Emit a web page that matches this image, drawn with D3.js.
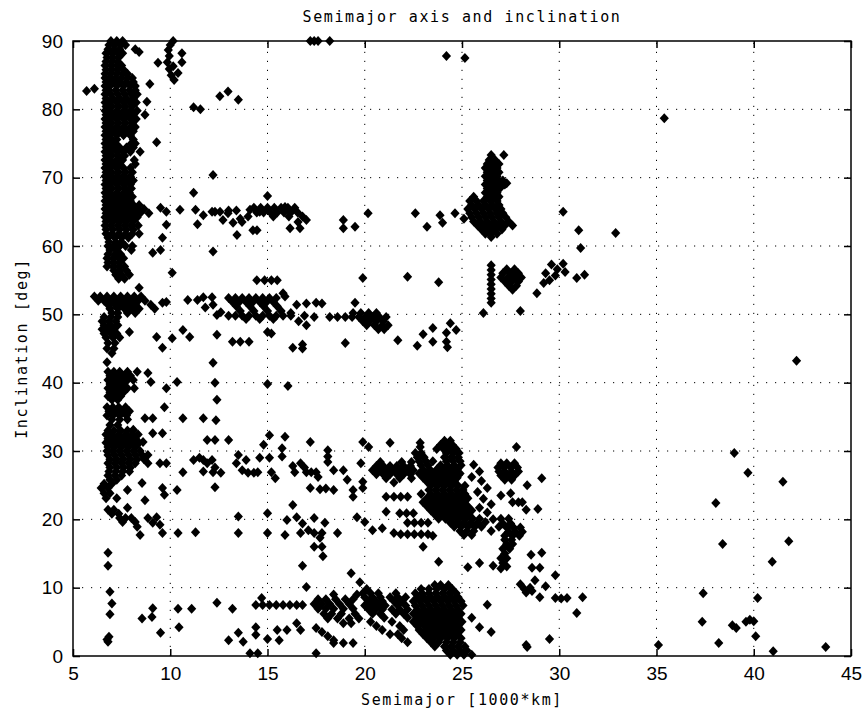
<!DOCTYPE html>
<html>
<head>
<meta charset="utf-8">
<script src="https://cdn.jsdelivr.net/npm/d3@7"></script>
<style>
  body { margin: 0; background: #fff; }
  svg { display: block; }
  .tick text { font-family: "Liberation Sans", Arial, sans-serif; font-size: 19px; fill: #000; }
  .tick line { stroke: #000; stroke-width: 1.5; }
  .grid line { stroke: #000; stroke-width: 1; stroke-dasharray: 1.2, 7.8; }
  .lbl { font-family: "DejaVu Sans Mono", monospace; font-size: 15px; letter-spacing: 1.6px; fill: #000; }
</style>
</head>
<body>
<svg id="chart" width="863" height="713"></svg>
<script>
// rows: [inclination, semimajor, semimajor, ...]
var leoColumnRows = [
  [90.0, 6.95,7.25,7.55],
  [89.4, 6.85,7.15,7.45,7.7],
  [88.8, 6.8,7.1,7.4,8.2],
  [88.4, 8.4],
  [88.2, 6.7,7.0,7.3,7.55],
  [87.6, 6.75,7.05,7.35],
  [87.0, 6.7,7.0,7.3],
  [86.4, 6.65,6.95,7.25,7.5],
  [85.8, 6.7,7.0,7.3,7.6],
  [85.2, 6.65,6.95,7.25,7.55,7.8],
  [84.6, 6.65,6.9,7.2,7.5,7.8,8.05],
  [84.0, 6.7,7.05,7.4,7.75,8.1],
  [83.4, 6.65,6.9,7.25,7.6,7.95,8.2],
  [82.8, 6.7,6.85,7.2,7.55,7.9,8.2],
  [82.2, 6.65,6.95,7.3,7.65,8.0,8.3],
  [81.6, 6.7,7.05,7.4,7.75,8.1],
  [81.0, 6.65,6.9,7.25,7.6,7.95,8.25],
  [80.4, 6.7,7.0,7.35,7.7,8.05],
  [79.8, 6.65,6.9,7.25,7.6,7.95,8.3],
  [79.2, 6.7,7.05,7.4,7.75,8.1],
  [78.6, 6.65,6.9,7.25,7.6,7.95,8.25],
  [78.0, 6.7,7.0,7.35,7.7,8.05],
  [77.4, 6.65,6.9,7.25,7.6,7.95,8.2],
  [76.8, 6.7,7.05,7.4,7.75,8.1],
  [76.2, 6.65,6.9,7.25,7.6,7.95],
  [75.6, 6.7,7.0,7.25,8.1],
  [75.0, 6.65,6.9,7.2,8.0,8.2],
  [74.4, 6.7,7.05,7.4,7.75,8.1],
  [73.8, 6.65,6.9,7.25,7.6,7.95,8.45],
  [73.2, 6.7,7.0,7.35,7.65],
  [72.6, 6.65,6.9,7.25,7.55,8.15],
  [72.0, 6.7,7.05,7.4,8.2],
  [71.4, 6.65,6.9,7.25,7.6,7.95],
  [70.8, 6.7,7.0,7.35,7.7,8.05],
  [70.2, 6.65,6.9,7.25,7.6,7.95],
  [69.6, 6.7,7.05,7.4,7.75,8.1],
  [69.0, 6.65,6.9,7.25,7.6,7.95],
  [68.4, 6.7,7.0,7.35,7.7,8.0],
  [67.8, 6.65,6.9,7.25,7.6,7.9],
  [67.2, 6.7,7.05,7.4,7.75,8.05],
  [66.6, 6.65,6.9,7.25,7.6,7.95],
  [66.0, 6.7,7.05,7.4,7.75,8.1,8.4],
  [65.4, 6.65,6.9,7.25,7.6,7.95,8.3,8.65],
  [64.8, 6.7,7.05,7.4,7.75,8.1,8.45,8.9],
  [64.2, 6.65,6.9,7.25,7.6,7.95,8.3],
  [63.6, 6.7,7.05,7.4,7.75,8.1],
  [63.0, 6.65,6.95,7.3,7.65,8.0,8.35],
  [62.4, 6.7,7.05,7.4,7.75,8.1],
  [61.8, 6.7,7.0,7.35,7.7,8.05,8.4],
  [61.2, 6.8,7.15,7.5,7.85],
  [60.6, 6.85,7.2,7.5],
  [60.0, 6.8,7.1,7.4,7.7,8.05],
  [59.4, 6.9,7.25,8.0],
  [58.8, 6.8,7.15,7.45],
  [58.2, 6.75,7.05,7.35,7.6],
  [57.6, 6.8,7.1,7.4],
  [57.0, 6.75,7.05,7.35,7.65],
  [56.4, 7.1,7.4,7.75],
  [55.8, 7.2,7.5,7.9],
  [55.2, 7.35,7.65],
  [53.9, 8.4],
  [52.6, 6.1,6.4,6.75,7.1,7.45,7.8,8.15,8.5],
  [52.0, 6.3,6.6,6.95,7.3,7.65,8.0,8.35,8.7],
  [51.4, 6.8,7.15,7.5,7.85,8.2,9.0],
  [50.8, 6.9,7.3,7.65,8.0,8.4,9.2],
  [50.2, 7.0,7.3,7.8,8.2],
  [49.6, 6.6,6.95,7.3],
  [49.0, 6.5,6.85,7.2],
  [48.4, 6.6,6.95,7.3],
  [47.8, 6.5,6.8,7.1],
  [47.4, 7.9],
  [47.2, 6.6,6.95,7.25],
  [46.6, 6.7,7.05,7.4],
  [45.8, 6.8,7.15],
  [45.0, 6.75,7.1],
  [44.3, 7.0],
  [43.0, 6.75],
  [41.6, 6.8,7.1,7.4,7.8,8.3],
  [41.0, 6.9,7.25,7.6,7.95],
  [40.4, 6.8,7.1,7.45,7.8,8.1],
  [39.8, 6.9,7.25,7.6],
  [39.2, 6.8,7.1,7.45,7.8,8.15],
  [38.6, 6.9,7.25,7.6],
  [38.0, 6.8,7.1,7.45],
  [37.5, 7.0,7.3],
  [36.4, 6.75,7.05,7.35,7.7],
  [35.8, 6.85,7.2,7.55,7.9],
  [35.2, 6.75,7.05,7.4,7.75],
  [34.6, 7.0,7.4,7.8],
  [33.8, 6.9,7.3],
  [33.0, 6.8,7.1,7.45,7.8,8.1],
  [32.4, 6.7,7.0,7.35,7.7,8.05,8.35],
  [31.8, 6.8,7.15,7.5,7.85,8.2],
  [31.2, 6.7,7.0,7.35,7.7,8.05,8.4],
  [30.6, 6.8,7.15,7.5,7.85,8.2],
  [30.0, 6.75,7.05,7.4,7.75,8.1,8.45],
  [29.4, 6.8,7.15,7.5,7.85,8.2,8.55,8.85],
  [28.8, 6.9,7.25,7.6,7.95,8.3,8.65],
  [28.2, 6.8,7.15,7.5,7.85,8.2],
  [27.6, 6.9,7.25,7.6,7.95],
  [27.0, 6.85,7.2,7.55,7.9],
  [26.4, 6.8,7.15,7.5],
  [25.8, 6.9,7.25],
  [25.2, 6.6,7.0],
  [24.6, 6.45,6.8],
  [24.3, 7.8],
  [23.8, 6.6,6.9],
  [23.1, 6.7,7.25],
  [21.7, 7.8],
  [21.4, 6.8,7.1],
  [20.8, 7.0,7.35],
  [20.2, 7.4,7.7,8.0],
  [19.6, 7.55,8.2],
  [18.9, 8.3],
  [17.7, 8.45],
  [15.1, 6.8],
  [13.2, 6.8],
  [9.4, 6.9],
  [7.7, 7.0],
  [6.1, 6.9],
  [2.8, 6.85],
  [2.4, 6.75],
  [2.1, 6.8]
];

var band65Rows = [
  [65.6, 14.3,14.65,15.0,15.35,15.7,16.05,16.4],
  [64.9, 14.45,14.8,15.15,15.5,15.85,16.2,16.55],
  [64.3, 14.0,15.3,16.1,16.8],
  [65.2, 13.0,13.4],
  [64.0, 13.6]
];

var band50Rows = [
  [55.0, 14.45,14.85,15.2,15.5],
  [52.4, 13.0,13.35,13.7,14.05,14.4,14.75,15.1,15.45],
  [51.8, 13.2,13.55,13.9,14.25,14.6,14.95,15.3],
  [51.2, 13.4,14.1,14.8,15.5],
  [50.5, 13.6,14.3,15.0,15.7],
  [49.8, 13.0,13.35,13.7,14.05,14.4,14.75,15.1,15.45,15.8,16.2],
  [49.3, 13.9,14.6,15.3],
  [50.2, 19.4,19.8,20.2,20.6],
  [49.6, 19.0,19.35,19.7,20.05,20.4,20.75,21.1],
  [49.0, 19.9,20.25,20.6,20.95],
  [48.4, 20.1,20.5,20.9,21.2],
  [47.8, 20.7,21.0]
];

var band27Rows = [
  [28.4, 20.8,21.9,22.4],
  [27.8, 20.6,20.95,21.3,21.65,22.0,22.35],
  [27.2, 20.4,20.75,21.1,21.45,21.8,22.15,22.5],
  [26.6, 20.6,20.95,21.3,21.65,22.0,22.35],
  [26.0, 21.1,21.8,22.4],
  [25.4, 21.5],
  [23.3, 21.1,21.5,21.85,22.2],
  [20.9, 21.8,22.15,22.5],
  [18.0, 21.5],
  [17.8, 21.85,22.2,22.55,22.9,23.25],
  [17.6, 23.5],
  [31.5, 24.1,24.4],
  [30.9, 23.9,24.2,24.5],
  [30.3, 23.7,24.05,24.4,24.7],
  [29.7, 22.6,22.9,24.2,24.55,24.85],
  [29.1, 22.7,23.05,24.1,24.45,24.8],
  [28.5, 22.8,23.15,23.5,24.2,24.55,24.9],
  [27.9, 22.9,23.25,23.9,24.25,24.6,24.95],
  [27.3, 23.0,23.35,23.7,24.05,24.4,24.75],
  [26.7, 22.8,23.15,23.5,23.85,24.2,24.55,24.9],
  [26.1, 23.0,23.35,23.7,24.05,24.4,24.75],
  [25.5, 23.2,23.55,23.9,24.25,24.6],
  [24.9, 23.4,23.75,24.1,24.45,24.8,25.15],
  [24.3, 23.3,23.65,24.0,24.35,24.7,25.05],
  [23.7, 22.9,23.4,23.75,24.1,24.45,24.8,25.15],
  [23.1, 23.2,23.55,23.9,24.25,24.6,24.95,25.3],
  [22.5, 23.0,23.35,23.7,24.05,24.4,24.75,25.1],
  [21.9, 23.2,23.55,23.9,24.25,24.6,24.95,25.3],
  [21.3, 23.4,23.75,24.1,24.45,24.8,25.15,25.5],
  [20.7, 23.6,23.95,24.3,24.65,25.0,25.35],
  [20.1, 23.8,24.15,24.5,24.85,25.2,25.55,25.9],
  [19.5, 22.2,22.55,22.9,23.25,24.4,24.75,25.1,25.45,25.8],
  [18.9, 24.6,24.95,25.3,25.65,26.0],
  [18.3, 24.9,25.25,25.6],
  [17.7, 25.1,25.5],
  [28.2, 27.0,27.3,27.7],
  [27.6, 26.85,27.15,27.5,27.85],
  [27.0, 26.9,27.2,27.55,27.9],
  [26.4, 27.0,27.35,27.7],
  [25.8, 27.2,27.55],
  [20.1, 27.0,27.4],
  [19.4, 27.1,27.5],
  [18.8, 27.3,27.65,28.0],
  [18.2, 27.4,27.75,28.1],
  [17.6, 27.6,27.95],
  [17.0, 27.2,27.55],
  [16.4, 27.3,27.6],
  [15.7, 27.1,27.45],
  [15.0, 27.2],
  [14.3, 27.0,27.3],
  [13.6, 27.1]
];

var meoRows = [
  [73.3, 26.5,27.15],
  [72.6, 26.4,26.7],
  [72.0, 26.3,26.6,26.9],
  [71.4, 26.2,26.5,26.8],
  [70.8, 26.3,26.6,26.9],
  [70.2, 26.2,26.5,26.8],
  [69.6, 26.3,26.6,26.9,27.1],
  [69.0, 26.2,26.5,26.8,27.2],
  [68.4, 26.3,26.6,26.9],
  [67.8, 26.2,26.5,26.8],
  [67.2, 25.6,26.3,26.6,26.9],
  [66.6, 25.4,25.75,26.1,26.45,26.8],
  [66.0, 25.5,25.85,26.2,26.55,26.9],
  [65.4, 25.3,25.65,26.0,26.35,26.7,27.0],
  [64.8, 25.4,25.75,26.1,26.45,26.8,27.1],
  [64.2, 25.5,25.85,26.2,26.55,26.9,27.25],
  [63.6, 25.6,25.95,26.3,26.65,27.0,27.4],
  [63.0, 25.8,26.15,26.5,26.85,27.2,27.6],
  [62.4, 26.0,26.35,26.7,27.05],
  [61.8, 26.2,26.5,26.8],
  [61.3, 26.5],
  [57.2, 26.5],
  [56.5, 26.5],
  [55.8, 26.5],
  [55.1, 26.5],
  [54.4, 26.5],
  [53.7, 26.5],
  [53.0, 26.5],
  [52.3, 26.5],
  [51.7, 26.5],
  [56.6, 27.3,27.7],
  [56.0, 27.1,27.5,27.9],
  [55.4, 27.0,27.35,27.7,28.05],
  [54.8, 27.2,27.55,27.9],
  [54.2, 27.4,27.8],
  [53.6, 27.6]
];

var lowRows = [
  [9.0, 18.4,19.6],
  [8.3, 17.6,18.0,18.5,19.0,19.4],
  [7.6, 17.4,17.8,18.2,18.7,19.2],
  [6.9, 17.6,18.0,18.4,18.9,19.4],
  [6.2, 17.9,18.3,18.8,19.5],
  [5.5, 18.1,18.6,19.2,19.7],
  [4.8, 18.9,19.3],
  [7.45, 14.4,14.75,15.1,15.45,15.8,16.15,16.5,16.8],
  [10.4, 23.6,23.9,24.3],
  [9.8, 20.1,22.9,23.3,23.7,24.1,24.5],
  [9.2, 19.9,20.3,20.7,21.6,22.6,22.95,23.3,23.65,24.0,24.35,24.7],
  [8.6, 20.0,20.4,20.8,21.3,21.7,22.1,22.7,23.05,23.4,23.75,24.1,24.45,24.8],
  [8.0, 20.2,20.55,20.9,21.5,21.9,22.5,22.85,23.2,23.55,23.9,24.25,24.6,24.95],
  [7.4, 20.0,20.35,20.7,21.05,21.7,22.1,22.6,22.95,23.3,23.65,24.0,24.35,24.7,25.05],
  [6.8, 20.2,20.55,20.9,21.4,21.8,22.2,22.7,23.05,23.4,23.75,24.1,24.45,24.8],
  [6.2, 20.4,20.8,21.6,22.0,22.5,22.85,23.2,23.55,23.9,24.25,24.6,24.95],
  [5.6, 21.0,22.2,22.7,23.05,23.4,23.75,24.1,24.45,24.8],
  [5.0, 20.3,21.4,22.5,22.9,23.25,23.6,23.95,24.3,24.65,25.0],
  [4.4, 20.6,21.8,22.7,23.05,23.4,23.75,24.1,24.45,24.8],
  [3.8, 20.9,22.0,22.8,23.2,23.55,23.9,24.25,24.6,24.95],
  [3.2, 21.3,21.7,23.0,23.35,23.7,24.05,24.4,24.75],
  [2.6, 21.9,23.2,23.55,23.9,24.25,24.6,24.95],
  [2.0, 22.2,23.4,23.8,24.2,24.55,24.9],
  [1.4, 23.6,24.1,24.45,24.8,25.15],
  [0.8, 24.2,24.55,24.9,25.25],
  [0.2, 24.4,24.75,25.1,25.5]
];

// single points: [semimajor, inclination]
var scatterUpper = [
  [5.7,82.7],[6.1,83.0],[8.95,83.7],[8.8,81.1],[8.7,79.2],[9.3,75.2],
  [10.15,90.0],[10.0,89.4],[9.9,88.7],[9.95,87.8],[9.85,86.9],[9.95,85.9],[10.05,85.0],[10.2,84.3],
  [10.6,88.2],[10.6,86.9],[10.4,85.3],[9.37,86.8],[10.15,86.3],
  [11.2,80.3],[11.55,80.0],[12.55,81.9],[12.97,82.6],[13.5,81.4],
  [12.2,70.4],[11.2,67.8],
  [17.2,90.0],[17.4,90.0],[17.6,90.0],[18.2,90.0],[24.2,87.8],[25.15,87.5],[35.4,78.7],
  [9.5,65.6],[9.8,65.0],[10.5,65.3],[11.3,65.3],[11.7,64.5],[12.3,65.0],[11.4,63.2],[9.8,63.1],
  [9.6,61.2],[9.1,59.0],[9.5,59.4],[10.1,56.1],[12.2,59.2],
  [12.15,65.0],[12.56,65.0],[12.97,64.8],[12.71,63.8],[13.23,63.4],[13.43,61.6],[13.69,63.5],
  [14.1,65.3],[14.25,62.3],[14.46,62.3],[14.6,65.0],[15.0,67.3],[15.9,65.7],[16.57,63.5],
  [16.16,62.6],[16.67,62.6],[17.0,63.8],
  [18.9,63.8],[18.9,62.6],[19.5,62.8],[20.17,64.8],[22.6,64.8],[23.2,62.8],[23.87,64.5],
  [24.0,63.4],[24.64,64.8],[25.1,64.0],[27.3,69.2],[27.0,68.6],
  [19.9,55.3],[22.2,55.5],[23.8,54.7],
  [28.85,53.1],[29.3,56.0],[29.6,57.3],[29.9,56.6],[30.2,57.4],[29.5,55.0],[29.8,55.7],
  [30.3,56.2],[29.2,54.6],[30.9,55.3],[31.3,55.8],[28.0,50.5],[26.1,50.2],
  [30.2,65.0],[31.0,62.3],[32.9,61.9],[31.1,59.7]
];

var scatterMiddle = [
  [15.8,53.1],[15.9,52.6],[11.7,52.5],[12.15,52.5],[12.2,51.4],[12.4,49.9],[10.9,52.1],[11.4,52.1],
  [9.6,51.7],[9.8,51.8],[11.8,51.0],[12.6,50.3],
  [16.5,51.4],[17.0,51.6],[17.5,51.7],[17.8,51.6],[16.2,50.2],[16.6,49.0],[17.0,48.4],[17.4,49.6],
  [16.9,49.8],[18.2,49.6],[18.6,49.6],[19.5,51.7],
  [23.5,48.0],[24.4,48.7],[24.2,47.3],[24.2,46.0],[24.25,45.2],[24.7,47.7],[23.5,46.0],[23.0,47.1],
  [22.7,45.4],[21.7,46.2],
  [12.4,47.0],[13.2,46.0],[13.6,46.0],[14.05,46.0],[15.0,47.4],[15.2,47.2],[16.3,45.1],[16.8,45.6],
  [16.8,45.0],[19.0,45.8],[12.2,42.9],[12.3,40.0],[15.0,39.8],[16.05,39.5],
  [9.3,46.7],[9.6,45.1],[10.1,46.5],[10.65,47.7],[11.0,46.7],
  [8.85,41.4],[9.0,40.1],[9.8,39.2],[10.35,40.1],[12.4,37.5],
  [8.1,33.1],[8.7,34.8],[9.1,34.8],[9.7,36.4],[10.65,34.8],[11.7,34.8],[12.35,34.5],
  [8.6,31.3],[9.1,32.6],[9.6,32.6],[8.85,28.2],[9.47,28.2],[9.8,28.2],[8.55,25.3],[8.7,22.8],
  [9.6,24.6],[9.7,23.6],[10.35,24.3],[10.65,26.9],[11.2,28.7],[11.7,28.7],[12.15,28.7],
  [12.2,26.9],[11.9,31.6],[12.3,31.6],[12.3,24.7],
  [8.85,20.2],[9.3,20.3],[9.1,19.5],[9.47,19.2],[9.6,18.0],[10.4,18.0],[11.3,18.1],
  [13.0,31.6],[14.8,30.9],[15.1,32.3],[15.9,32.1],[15.75,30.4],[17.2,31.3],[19.9,31.3],[20.2,30.6],
  [21.3,31.2],[22.85,31.2],[22.85,30.6],
  [11.5,29.0],[11.9,28.2],[12.3,27.6],[11.7,27.0],[12.6,26.8],[13.5,29.4],[13.4,28.2],[13.7,27.2],
  [13.9,28.7],[14.0,26.8],[14.3,26.8],[14.6,29.0],[14.5,26.9],[15.1,29.0],[15.2,26.9],[15.4,26.0],
  [15.75,29.2],[16.4,26.9],[16.7,28.2],[17.0,26.9],[17.25,26.9],[17.5,26.9],[17.2,24.6],[17.7,24.4],
  [18.0,24.5],[18.4,24.3],[17.6,26.2],[18.1,30.1],[18.1,29.2],[18.1,28.4],[18.4,27.2],[18.9,27.2],
  [19.1,25.8],[19.4,24.3],[19.4,23.3],[19.9,25.5],[19.9,24.6],[19.8,28.2],[16.3,27.8],[16.9,27.6],
  [13.5,20.4],[13.5,18.0],[15.0,20.9],[15.0,18.0],[15.9,17.7],[16.0,19.9],[16.3,22.1],[16.5,20.3],
  [16.8,19.4],[17.1,18.4],[16.7,18.0],[17.4,20.2],[17.95,19.5],[17.4,18.0],[17.8,18.0],[17.7,17.3],
  [17.4,16.0],[17.8,16.0],[17.85,14.6],[18.6,18.0],[16.8,13.2],
  [19.6,20.3],[20.0,19.6],[20.4,18.4],[20.9,18.7],[21.1,21.1],
  [23.0,16.0],[23.8,13.8],[25.3,13.0],
  [25.6,28.0],[25.9,27.0],[25.5,26.2],[26.0,25.6],[26.3,24.6],[25.8,24.0],[26.1,23.0],[26.5,22.2],
  [25.9,21.7],[26.3,21.0],[26.6,20.0],[26.2,19.6],[26.9,18.9],[26.5,18.3],[27.2,17.6],
  [27.8,30.6],[28.35,25.0],[29.1,26.0],[27.5,23.8],[27.6,22.5],[27.9,22.5],[28.1,22.5],[27.0,23.5],
  [28.3,21.4],[28.9,21.5],
  [25.9,13.6],[26.6,13.2],[27.0,12.8],[27.3,13.1],
  [28.55,14.8],[29.1,15.1],[28.6,12.9],[29.0,12.9],[28.75,11.1],[29.3,10.2],[29.8,11.8]
];

var scatterLower = [
  [8.55,5.5],[9.06,5.7],[9.1,7.0],[9.5,3.4],[10.4,6.9],[10.45,4.2],[11.1,6.9],[12.4,7.8],[13.2,6.9],
  [13.0,2.3],[13.5,3.4],[13.75,2.1],[14.4,4.2],[14.4,3.1],[14.1,0.4],[14.5,0.4],[15.0,2.5],
  [15.5,3.8],[16.0,3.8],[15.6,2.3],[16.5,4.8],[16.7,3.8],[14.7,8.5],
  [17.0,10.1],[19.3,12.1],[19.75,10.8],[17.5,0.4],[18.4,1.9],[18.9,1.9],[19.4,1.9],
  [17.5,4.1],[17.8,3.5],[18.1,2.9],[18.4,2.3],
  [25.9,4.2],[26.5,3.5],[26.3,7.5],[28.3,1.6],[25.5,5.6],
  [28.0,10.5],[28.2,9.8],[28.5,10.0],[28.3,9.3],[28.6,9.5],[29.0,8.6],[29.8,8.5],[30.1,8.4],
  [30.4,8.5],[31.2,8.6],[30.9,6.3],[29.5,2.5],[28.35,1.3]
];

var scatterFar = [
  [35.1,1.6],[37.35,5.0],[37.4,9.2],[38.2,1.9],[38.9,4.5],[39.1,4.1],[39.6,5.0],[39.8,5.3],[40.0,5.1],
  [40.1,2.9],[40.2,8.5],[41.0,0.7],[43.7,1.3],[38.4,16.4],[38.05,22.4],[39.0,29.7],[39.7,26.8],
  [41.5,25.5],[41.8,16.8],[40.95,13.8],[42.2,43.2]
];

var xTicks = [5, 10, 15, 20, 25, 30, 35, 40, 45];
var yTicks = [0, 10, 20, 30, 40, 50, 60, 70, 80, 90];

function fromRows(rows) {
  var out = [];
  rows.forEach(function(r) {
    for (var i = 1; i < r.length; i++) out.push([r[i], r[0]]);
  });
  return out;
}

var points = [].concat(
  fromRows(leoColumnRows), fromRows(band65Rows), fromRows(band50Rows),
  fromRows(band27Rows), fromRows(meoRows), fromRows(lowRows),
  scatterUpper, scatterMiddle, scatterLower, scatterFar
);

var svg = d3.select("#chart");
var plotL = 73, plotR = 851, plotT = 41, plotB = 656;

var x = d3.scaleLinear().domain([5, 45]).range([plotL, plotR]);
var y = d3.scaleLinear().domain([0, 90]).range([plotB, plotT]);

// grid
var grid = svg.append("g").attr("class", "grid");
grid.selectAll("line.v").data(xTicks.slice(1, -1)).enter().append("line")
  .attr("x1", function(d){ return x(d); }).attr("x2", function(d){ return x(d); })
  .attr("y1", plotB).attr("y2", plotT);
grid.selectAll("line.h").data(yTicks.slice(1, -1)).enter().append("line")
  .attr("y1", function(d){ return y(d); }).attr("y2", function(d){ return y(d); })
  .attr("x1", plotL).attr("x2", plotR);

// axes, ticks inward
svg.append("g").attr("transform", "translate(0," + plotB + ")")
  .call(d3.axisBottom(x).tickValues(xTicks).tickSizeInner(-7).tickSizeOuter(0).tickPadding(11))
  .call(function(g){ g.select(".domain").remove(); });
svg.append("g").attr("transform", "translate(0," + plotT + ")")
  .call(d3.axisTop(x).tickValues(xTicks).tickSizeInner(-7).tickSizeOuter(0).tickFormat(""))
  .call(function(g){ g.select(".domain").remove(); });
svg.append("g").attr("transform", "translate(" + plotL + ",0)")
  .call(d3.axisLeft(y).tickValues(yTicks).tickSizeInner(-7).tickSizeOuter(0).tickPadding(10))
  .call(function(g){ g.select(".domain").remove(); });
svg.append("g").attr("transform", "translate(" + plotR + ",0)")
  .call(d3.axisRight(y).tickValues(yTicks).tickSizeInner(-7).tickSizeOuter(0).tickFormat(""))
  .call(function(g){ g.select(".domain").remove(); });

svg.append("rect")
  .attr("x", plotL).attr("y", plotT)
  .attr("width", plotR - plotL).attr("height", plotB - plotT)
  .attr("fill", "none").attr("stroke", "#000").attr("stroke-width", 1.5);

// markers
svg.append("g").selectAll("path").data(points).enter().append("path")
  .attr("d", "M0,-5L4.6,0L0,5L-4.6,0Z")
  .attr("fill", "#000")
  .attr("transform", function(d){ return "translate(" + x(d[0]) + "," + y(d[1]) + ")"; });

// labels
svg.append("text").attr("class", "lbl")
  .attr("x", (plotL + plotR) / 2).attr("y", 22).attr("text-anchor", "middle")
  .text("Semimajor axis and inclination");
svg.append("text").attr("class", "lbl")
  .attr("x", (plotL + plotR) / 2).attr("y", 705).attr("text-anchor", "middle")
  .text("Semimajor [1000*km]");
svg.append("text").attr("class", "lbl")
  .attr("transform", "translate(27," + ((plotT + plotB) / 2) + ") rotate(-90)")
  .attr("text-anchor", "middle")
  .text("Inclination [deg]");
</script>
</body>
</html>
